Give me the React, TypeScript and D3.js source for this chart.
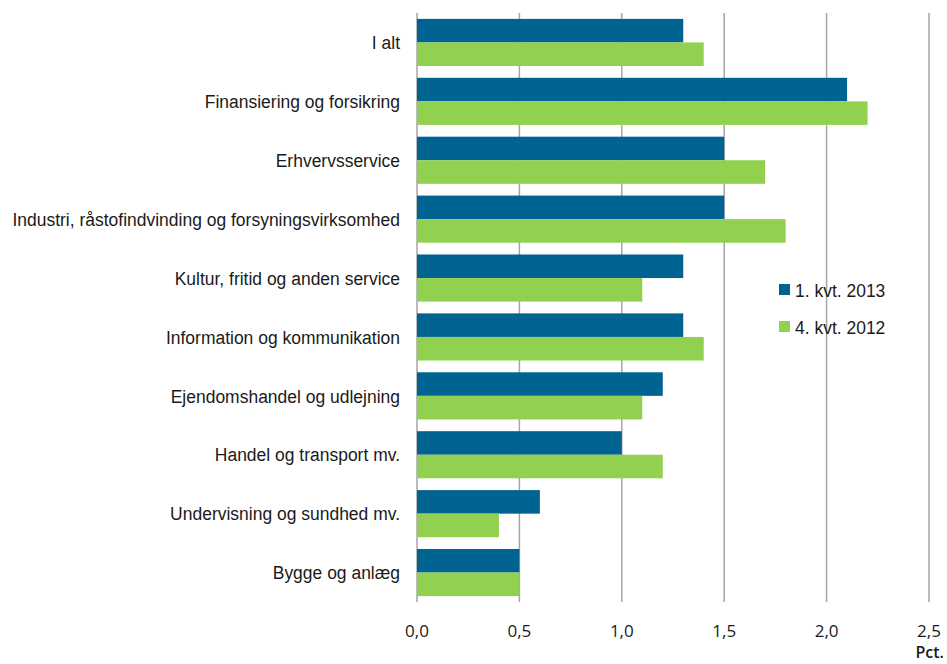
import * as d3 from 'd3';

const categories = [
  'I alt',
  'Finansiering og forsikring',
  'Erhvervsservice',
  'Industri, råstofindvinding og forsyningsvirksomhed',
  'Kultur, fritid og anden service',
  'Information og kommunikation',
  'Ejendomshandel og udlejning',
  'Handel og transport mv.',
  'Undervisning og sundhed mv.',
  'Bygge og anlæg',
];
const q1_2013 = [1.3, 2.1, 1.5, 1.5, 1.3, 1.3, 1.2, 1.0, 0.6, 0.5];
const q4_2012 = [1.4, 2.2, 1.7, 1.8, 1.1, 1.4, 1.1, 1.2, 0.4, 0.5];
const seriesNames = ['1. kvt. 2013', '4. kvt. 2012'];
const xTicks = [0, 0.5, 1, 1.5, 2, 2.5];

const BLUE = '#006391';
const GREEN = '#92d050';
const LABEL_FONT = '"Liberation Sans", Arial, sans-serif';
const TICK_FONT = '"Open Sans", "Noto Sans", sans-serif';
// reference uses a narrow face; squeeze the regular one a bit
const SQUEEZE = 0.92;

export default function App() {
  const width = 947;
  const height = 664;
  const margin = { top: 13, right: 18, bottom: 62, left: 417 };
  const innerW = width - margin.left - margin.right;
  const innerH = height - margin.top - margin.bottom;

  const x = d3.scaleLinear().domain([0, 2.5]).range([0, innerW]);
  const y = d3.scaleBand<string>().domain(categories).range([0, innerH]).paddingInner(0.2).paddingOuter(0.1);
  const sub = d3.scaleBand<number>().domain([0, 1]).range([0, y.bandwidth()]);
  const fmt = (v: number) => v.toFixed(1).replace('.', ',');
  const series = [q1_2013, q4_2012];
  const colors = [BLUE, GREEN];

  return (
    <svg width={width} height={height} style={{ position: 'absolute', left: 0, top: 0 }}>
      <g transform={`translate(${margin.left},${margin.top})`}>
        {xTicks.map(t => (
          <line key={t} x1={x(t)} x2={x(t)} y1={0} y2={innerH} stroke="#a6a6a6" strokeWidth={1.5} />
        ))}
        {series.map((vals, si) =>
          categories.map((c, i) => (
            <rect
              key={`${si}-${c}`}
              x={x(0)}
              y={(y(c) ?? 0) + (sub(si) ?? 0)}
              width={x(vals[i]) - x(0)}
              height={sub.bandwidth()}
              fill={colors[si]}
            />
          ))
        )}
        {categories.map(c => (
          <text
            key={c}
            transform={`translate(-17,${(y(c) ?? 0) + y.bandwidth() / 2}) scale(${SQUEEZE},1)`}
            dy="0.35em"
            textAnchor="end"
            fontFamily={LABEL_FONT}
            fontSize={19}
            fill="#1a1a1a"
          >
            {c}
          </text>
        ))}
        {xTicks.map(t => (
          <text
            key={t}
            x={x(t)}
            y={innerH + 29}
            dy="0.35em"
            textAnchor="middle"
            fontFamily={TICK_FONT}
            fontSize={17}
            fill="#1a1a1a"
          >
            {fmt(t)}
          </text>
        ))}
        <text
          x={innerW + 15}
          y={innerH + 50}
          dy="0.35em"
          textAnchor="end"
          fontFamily={TICK_FONT}
          fontSize={16}
          fontWeight={600}
          fill="#1a1a1a"
        >
          Pct.
        </text>
        {seriesNames.map((n, i) => (
          <g key={n} transform={`translate(${362},${277 + i * 37})`}>
            <rect x={0} y={-6} width={11} height={11} fill={colors[i]} />
            <text
              transform={`translate(16,0) scale(${SQUEEZE},1)`}
              dy="0.35em"
              fontFamily={LABEL_FONT}
              fontSize={19}
              fill="#1a1a1a"
            >
              {n}
            </text>
          </g>
        ))}
      </g>
    </svg>
  );
}
